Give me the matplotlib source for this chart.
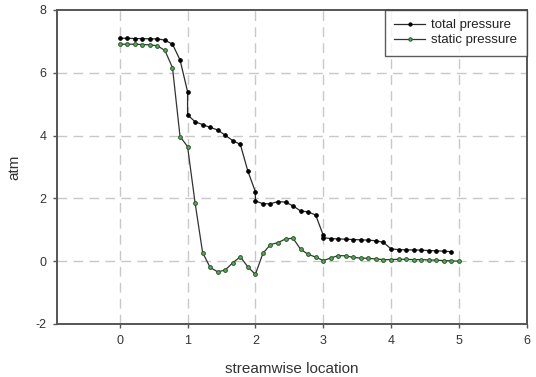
import numpy as np
import matplotlib
matplotlib.use('Agg')
import matplotlib.pyplot as plt

plt.rcParams['font.family'] = ['Liberation Sans', 'DejaVu Sans']
plt.rcParams['axes.unicode_minus'] = False

# total pressure, sampled on each unit segment (ends repeat across the jumps)
tp_x0 = np.linspace(0, 1, 10)
tp_y0 = [7.10, 7.10, 7.09, 7.09, 7.08, 7.08, 7.04, 6.91, 6.41, 5.40]
tp_x1 = np.linspace(1, 2, 10)
tp_y1 = [4.66, 4.44, 4.35, 4.26, 4.18, 4.01, 3.84, 3.72, 2.87, 2.21]
tp_x2 = np.linspace(2, 3, 10)
tp_y2 = [1.92, 1.83, 1.83, 1.90, 1.88, 1.76, 1.60, 1.57, 1.47, 0.83]
tp_x3 = np.linspace(3, 4, 10)
tp_y3 = [0.75, 0.72, 0.71, 0.70, 0.69, 0.68, 0.67, 0.65, 0.60, 0.39]
tp_x4 = np.linspace(4, 5, 10)[1:9]
tp_y4 = [0.37, 0.36, 0.36, 0.35, 0.34, 0.33, 0.32, 0.30]

# static pressure on the same grid, x = 0 .. 5
sp_x = np.linspace(0, 5, 46)
sp_y = [6.91, 6.91, 6.91, 6.90, 6.89, 6.86, 6.71, 6.16, 3.97, 3.65,
        1.85, 0.27, -0.20, -0.34, -0.28, -0.05, 0.14, -0.18, -0.42,
        0.25, 0.53, 0.59, 0.71, 0.73, 0.38, 0.22, 0.13,
        0.02, 0.10, 0.18, 0.17, 0.12, 0.10, 0.09, 0.07, 0.05,
        0.05, 0.06, 0.06, 0.05, 0.05, 0.04, 0.03, 0.02, 0.01, 0.00]

tp_x = np.concatenate([tp_x0, tp_x1, tp_x2, tp_x3, tp_x4])
tp_y = np.concatenate([tp_y0, tp_y1, tp_y2, tp_y3, tp_y4])

fig = plt.figure(figsize=(5.36, 3.77), dpi=100)
ax = fig.add_axes([0.107, 0.1406, 0.8756, 0.8329])

ax.plot(tp_x, tp_y, '-o', color='#2a2a2a', lw=0.9, ms=2.7,
        mfc='black', mec='black', mew=0.6, label='total pressure', zorder=3)
ax.plot(sp_x, sp_y, '-o', color='#333333', lw=0.9, ms=2.7,
        mfc='#5fa85f', mec='#1f5a1f', mew=0.7, label='static pressure', zorder=3)

ax.set_xlim(-0.92, 6)
ax.set_ylim(-2, 8)
ax.set_xticks(range(0, 7))
ax.set_yticks(range(-2, 9, 2))

# dashed grid only at the inner ticks
for v in range(0, 6):
    ax.axvline(v, color='#c8c8c8', lw=1.0, ls=(0, (7, 4.5)), zorder=1)
for v in range(0, 7, 2):
    ax.axhline(v, color='#c8c8c8', lw=1.0, ls=(0, (7, 4.5)), zorder=1)

for s in ax.spines.values():
    s.set_color('#555555')
    s.set_linewidth(1.4)

ax.tick_params(direction='out', length=3, width=1, color='#555555',
               labelsize=9, labelcolor='#333333', pad=5)
ax.set_xlabel('streamwise location', fontsize=11, color='#333333', labelpad=11)
ax.set_ylabel('atm', fontsize=11, color='#333333', labelpad=10)

leg = ax.legend(loc='upper right', fontsize=9.5, frameon=True, fancybox=False,
                borderaxespad=0, handlelength=2.4, labelspacing=0.2,
                borderpad=0.7, handletextpad=0.45, markerscale=0.9)
leg.get_frame().set_edgecolor('#333333')
leg.get_frame().set_linewidth(1.0)
for t in leg.get_texts():
    t.set_color('#222222')

fig.savefig('out.png', dpi=100)
